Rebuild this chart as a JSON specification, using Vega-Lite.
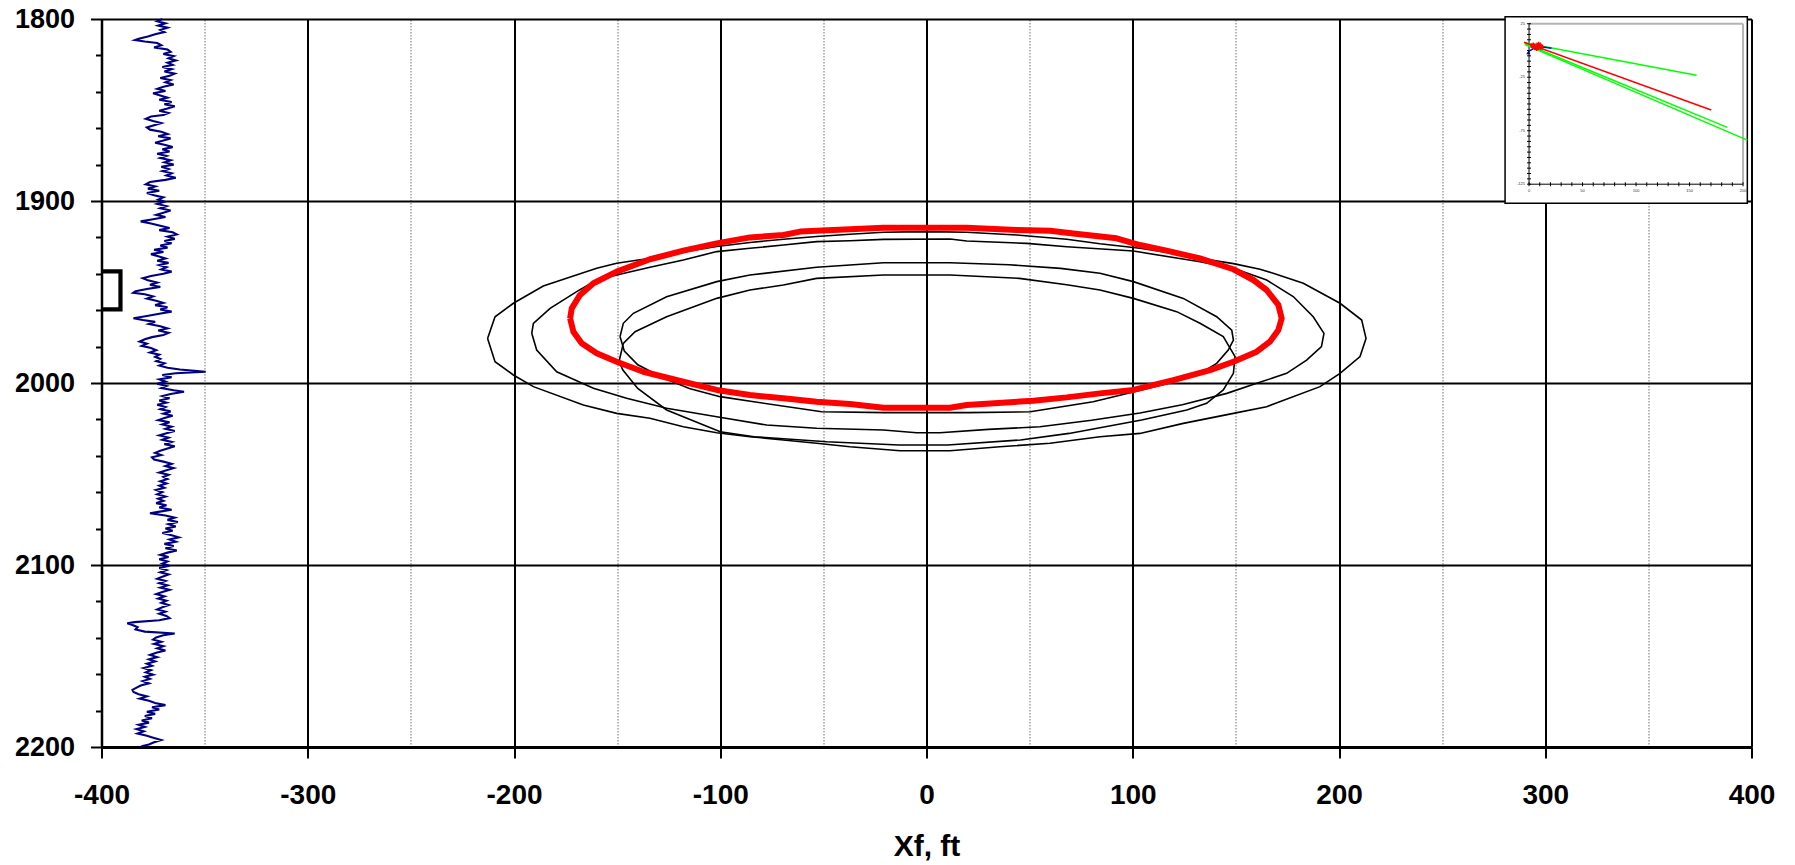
{
"$schema": "https://vega.github.io/schema/vega-lite/v6.json",
"width": 1650, "height": 728,
"autosize": {"type": "none"},
"padding": {"left": 101.5, "top": 19, "right": 43.5, "bottom": 118},
"background": "white",
"config": {"view": {"stroke": null}, "font": "Liberation Sans"},
"datasets": {
"log": [
{"y":1800.0,"x":-370.5},{"y":1801.2,"x":-373.0},{"y":1802.4,"x":-369.0},{"y":1803.6,"x":-372.5},{"y":1804.8,"x":-368.0},{"y":1806.0,"x":-371.5},{"y":1807.2,"x":-369.5},{"y":1808.4,"x":-374.0},{"y":1809.6,"x":-377.5},{"y":1810.8,"x":-382.0},{"y":1811.6,"x":-383.8},{"y":1812.4,"x":-379.0},{"y":1813.2,"x":-373.0},{"y":1814.4,"x":-371.0},{"y":1815.6,"x":-374.5},{"y":1816.8,"x":-368.0},{"y":1818.0,"x":-366.5},{"y":1819.2,"x":-370.0},{"y":1820.4,"x":-365.0},{"y":1821.6,"x":-367.5},{"y":1822.8,"x":-364.0},{"y":1824.0,"x":-368.0},{"y":1825.2,"x":-365.5},{"y":1826.4,"x":-370.5},{"y":1827.6,"x":-366.0},{"y":1828.8,"x":-369.5},{"y":1830.0,"x":-364.5},{"y":1831.2,"x":-367.0},{"y":1832.4,"x":-371.5},{"y":1833.6,"x":-366.5},{"y":1834.8,"x":-369.0},{"y":1836.0,"x":-365.0},{"y":1837.2,"x":-370.0},{"y":1838.4,"x":-373.0},{"y":1839.6,"x":-369.0},{"y":1840.8,"x":-375.0},{"y":1842.0,"x":-371.5},{"y":1843.2,"x":-368.0},{"y":1844.4,"x":-372.0},{"y":1845.6,"x":-366.0},{"y":1846.8,"x":-369.5},{"y":1848.0,"x":-364.5},{"y":1849.2,"x":-368.0},{"y":1850.4,"x":-372.0},{"y":1851.6,"x":-367.5},{"y":1852.8,"x":-370.0},{"y":1853.6,"x":-376.0},{"y":1854.8,"x":-378.5},{"y":1856.0,"x":-375.0},{"y":1857.2,"x":-371.0},{"y":1858.4,"x":-374.5},{"y":1859.6,"x":-378.0},{"y":1860.8,"x":-376.5},{"y":1862.0,"x":-371.0},{"y":1863.2,"x":-368.0},{"y":1864.4,"x":-372.5},{"y":1865.6,"x":-366.5},{"y":1866.8,"x":-370.0},{"y":1868.0,"x":-374.0},{"y":1869.2,"x":-369.0},{"y":1870.4,"x":-365.5},{"y":1871.6,"x":-370.5},{"y":1872.8,"x":-367.0},{"y":1874.0,"x":-373.0},{"y":1875.2,"x":-368.5},{"y":1876.4,"x":-371.5},{"y":1877.6,"x":-366.5},{"y":1878.8,"x":-369.5},{"y":1880.0,"x":-365.0},{"y":1881.2,"x":-371.0},{"y":1882.4,"x":-367.5},{"y":1883.6,"x":-370.5},{"y":1884.8,"x":-366.0},{"y":1886.0,"x":-368.5},{"y":1887.2,"x":-364.0},{"y":1888.4,"x":-369.0},{"y":1889.6,"x":-376.5},{"y":1890.8,"x":-378.5},{"y":1892.0,"x":-374.0},{"y":1893.2,"x":-377.5},{"y":1894.4,"x":-372.0},{"y":1895.6,"x":-378.0},{"y":1896.8,"x":-374.5},{"y":1898.0,"x":-370.0},{"y":1899.2,"x":-372.5},{"y":1900.4,"x":-369.5},
{"y":1901.6,"x":-373.0},{"y":1902.8,"x":-368.5},{"y":1904.0,"x":-371.5},{"y":1905.2,"x":-366.5},{"y":1906.4,"x":-370.0},{"y":1907.6,"x":-373.5},{"y":1908.8,"x":-369.0},{"y":1910.0,"x":-375.0},{"y":1911.2,"x":-381.0},{"y":1912.4,"x":-376.0},{"y":1913.6,"x":-371.5},{"y":1914.8,"x":-367.0},{"y":1916.0,"x":-372.0},{"y":1917.2,"x":-365.5},{"y":1918.4,"x":-363.5},{"y":1919.6,"x":-368.0},{"y":1920.8,"x":-364.5},{"y":1922.0,"x":-369.5},{"y":1923.2,"x":-366.0},{"y":1924.4,"x":-371.5},{"y":1925.6,"x":-368.0},{"y":1926.8,"x":-374.5},{"y":1928.0,"x":-370.0},{"y":1929.2,"x":-376.0},{"y":1930.4,"x":-372.5},{"y":1931.6,"x":-369.0},{"y":1932.8,"x":-373.0},{"y":1934.0,"x":-367.5},{"y":1935.2,"x":-372.0},{"y":1936.4,"x":-368.5},{"y":1937.6,"x":-371.0},{"y":1938.8,"x":-366.0},{"y":1940.0,"x":-370.0},{"y":1941.2,"x":-376.0},{"y":1942.4,"x":-380.0},{"y":1943.6,"x":-377.5},{"y":1944.8,"x":-373.0},{"y":1946.0,"x":-376.5},{"y":1947.2,"x":-371.5},{"y":1948.4,"x":-378.0},{"y":1949.6,"x":-383.5},{"y":1950.4,"x":-384.6},{"y":1951.2,"x":-379.0},{"y":1952.4,"x":-375.0},{"y":1953.6,"x":-378.0},{"y":1954.8,"x":-373.5},{"y":1956.0,"x":-370.0},{"y":1957.2,"x":-374.0},{"y":1958.4,"x":-368.0},{"y":1959.6,"x":-371.5},{"y":1960.8,"x":-366.0},{"y":1962.0,"x":-372.0},{"y":1963.2,"x":-378.0},{"y":1964.4,"x":-384.5},{"y":1965.4,"x":-380.0},{"y":1966.4,"x":-374.0},{"y":1967.6,"x":-377.0},{"y":1968.8,"x":-371.5},{"y":1970.0,"x":-368.0},{"y":1971.2,"x":-372.5},{"y":1972.4,"x":-367.5},{"y":1973.6,"x":-370.0},{"y":1974.8,"x":-375.5},{"y":1976.0,"x":-379.0},{"y":1977.2,"x":-381.5},{"y":1978.4,"x":-378.0},{"y":1979.6,"x":-380.5},{"y":1980.8,"x":-376.0},{"y":1982.0,"x":-373.5},{"y":1983.2,"x":-376.5},{"y":1984.4,"x":-372.0},{"y":1985.6,"x":-374.0},{"y":1986.8,"x":-371.5},{"y":1988.0,"x":-373.5},{"y":1989.2,"x":-369.5},{"y":1990.4,"x":-372.0},{"y":1991.6,"x":-368.0},{"y":1992.6,"x":-362.0},{"y":1993.8,"x":-349.5},{"y":1994.6,"x":-364.0},{"y":1995.6,"x":-370.5},{"y":1996.8,"x":-366.0},{"y":1998.0,"x":-372.0},{"y":1999.2,"x":-369.0},{"y":2000.4,"x":-373.0},
{"y":2001.6,"x":-368.5},{"y":2002.8,"x":-371.0},{"y":2004.0,"x":-365.0},{"y":2004.8,"x":-360.0},{"y":2006.0,"x":-366.5},{"y":2007.2,"x":-370.5},{"y":2008.4,"x":-367.0},{"y":2009.6,"x":-372.0},{"y":2010.8,"x":-368.5},{"y":2012.0,"x":-373.0},{"y":2013.2,"x":-369.0},{"y":2014.4,"x":-371.5},{"y":2015.6,"x":-366.5},{"y":2016.8,"x":-370.0},{"y":2018.0,"x":-365.5},{"y":2019.2,"x":-369.5},{"y":2020.4,"x":-372.5},{"y":2021.6,"x":-367.0},{"y":2022.8,"x":-370.5},{"y":2024.0,"x":-366.0},{"y":2025.2,"x":-369.0},{"y":2026.4,"x":-364.5},{"y":2027.6,"x":-368.5},{"y":2028.8,"x":-372.0},{"y":2030.0,"x":-367.5},{"y":2031.2,"x":-370.5},{"y":2032.4,"x":-366.0},{"y":2033.6,"x":-369.5},{"y":2034.8,"x":-364.5},{"y":2036.0,"x":-368.0},{"y":2037.2,"x":-371.5},{"y":2038.4,"x":-374.0},{"y":2039.6,"x":-371.0},{"y":2040.8,"x":-375.5},{"y":2042.0,"x":-374.5},{"y":2043.2,"x":-370.0},{"y":2044.4,"x":-366.0},{"y":2045.6,"x":-369.0},{"y":2046.8,"x":-365.0},{"y":2048.0,"x":-368.5},{"y":2049.2,"x":-372.0},{"y":2050.4,"x":-367.5},{"y":2051.6,"x":-370.0},{"y":2052.8,"x":-368.0},{"y":2054.0,"x":-371.5},{"y":2055.2,"x":-368.5},{"y":2056.4,"x":-372.0},{"y":2057.6,"x":-369.5},{"y":2058.8,"x":-373.5},{"y":2060.0,"x":-370.5},{"y":2061.2,"x":-373.0},{"y":2062.4,"x":-369.0},{"y":2063.6,"x":-372.5},{"y":2064.8,"x":-370.0},{"y":2066.0,"x":-373.5},{"y":2067.2,"x":-368.5},{"y":2068.4,"x":-372.0},{"y":2069.6,"x":-366.0},{"y":2070.8,"x":-372.5},{"y":2071.6,"x":-376.5},{"y":2072.8,"x":-369.0},{"y":2074.0,"x":-364.5},{"y":2075.2,"x":-368.0},{"y":2076.4,"x":-363.0},{"y":2077.6,"x":-367.5},{"y":2078.8,"x":-364.0},{"y":2080.0,"x":-369.0},{"y":2081.2,"x":-365.5},{"y":2082.4,"x":-370.5},{"y":2083.6,"x":-366.0},{"y":2084.8,"x":-362.5},{"y":2086.0,"x":-367.0},{"y":2087.2,"x":-364.0},{"y":2088.4,"x":-369.5},{"y":2089.6,"x":-365.0},{"y":2090.8,"x":-369.0},{"y":2092.0,"x":-363.5},{"y":2093.2,"x":-368.0},{"y":2094.4,"x":-371.5},{"y":2095.6,"x":-367.5},{"y":2096.8,"x":-372.0},{"y":2098.0,"x":-368.0},{"y":2099.2,"x":-370.5},{"y":2100.4,"x":-367.0},
{"y":2101.6,"x":-372.0},{"y":2102.8,"x":-368.5},{"y":2104.0,"x":-371.5},{"y":2105.2,"x":-367.5},{"y":2106.4,"x":-370.5},{"y":2107.6,"x":-373.0},{"y":2108.8,"x":-369.0},{"y":2110.0,"x":-372.0},{"y":2111.2,"x":-368.0},{"y":2112.4,"x":-371.5},{"y":2113.6,"x":-367.0},{"y":2114.8,"x":-370.5},{"y":2116.0,"x":-373.5},{"y":2117.2,"x":-369.5},{"y":2118.4,"x":-372.5},{"y":2119.6,"x":-368.5},{"y":2120.8,"x":-371.0},{"y":2122.0,"x":-367.5},{"y":2123.2,"x":-370.5},{"y":2124.4,"x":-373.0},{"y":2125.6,"x":-369.0},{"y":2126.8,"x":-372.0},{"y":2128.0,"x":-368.5},{"y":2129.2,"x":-367.0},{"y":2130.4,"x":-372.0},{"y":2131.4,"x":-384.0},{"y":2132.0,"x":-387.5},{"y":2133.0,"x":-385.0},{"y":2134.2,"x":-382.5},{"y":2135.4,"x":-383.5},{"y":2136.6,"x":-379.0},{"y":2137.6,"x":-364.5},{"y":2138.6,"x":-370.0},{"y":2139.8,"x":-373.5},{"y":2141.0,"x":-375.0},{"y":2142.2,"x":-371.0},{"y":2143.4,"x":-374.5},{"y":2144.6,"x":-370.0},{"y":2145.8,"x":-373.0},{"y":2147.0,"x":-369.0},{"y":2148.2,"x":-373.5},{"y":2149.4,"x":-376.5},{"y":2150.6,"x":-373.0},{"y":2151.8,"x":-377.0},{"y":2153.0,"x":-374.0},{"y":2154.2,"x":-378.0},{"y":2155.4,"x":-375.5},{"y":2156.6,"x":-379.5},{"y":2157.8,"x":-376.0},{"y":2159.0,"x":-378.5},{"y":2160.2,"x":-375.0},{"y":2161.4,"x":-379.0},{"y":2162.6,"x":-376.5},{"y":2163.8,"x":-380.0},{"y":2165.0,"x":-377.0},{"y":2166.2,"x":-381.0},{"y":2167.4,"x":-383.0},{"y":2168.6,"x":-385.0},{"y":2169.8,"x":-384.5},{"y":2171.0,"x":-382.0},{"y":2172.2,"x":-378.0},{"y":2173.4,"x":-381.5},{"y":2174.6,"x":-377.0},{"y":2175.8,"x":-374.0},{"y":2177.0,"x":-369.0},{"y":2178.2,"x":-375.5},{"y":2179.4,"x":-372.0},{"y":2180.6,"x":-378.0},{"y":2181.8,"x":-374.0},{"y":2183.0,"x":-379.0},{"y":2184.2,"x":-375.5},{"y":2185.4,"x":-380.5},{"y":2186.6,"x":-377.0},{"y":2187.8,"x":-382.0},{"y":2189.0,"x":-379.0},{"y":2190.2,"x":-383.0},{"y":2191.4,"x":-379.5},{"y":2192.6,"x":-382.5},{"y":2193.8,"x":-378.0},{"y":2195.0,"x":-374.5},{"y":2196.2,"x":-371.0},{"y":2197.4,"x":-374.5},{"y":2198.6,"x":-377.0},{"y":2199.4,"x":-380.0},{"y":2200.0,"x":-381.0}
],
"frac": [
{"c":"r","i":0,"x":-172.8,"y":1964.5},{"c":"r","i":1,"x":-172.0,"y":1959.0},{"c":"r","i":2,"x":-168.0,"y":1951.6},{"c":"r","i":3,"x":-161.5,"y":1945.2},{"c":"r","i":4,"x":-150.2,"y":1938.8},{"c":"r","i":5,"x":-134.1,"y":1932.0},{"c":"r","i":6,"x":-117.9,"y":1927.3},{"c":"r","i":7,"x":-101.7,"y":1923.3},{"c":"r","i":8,"x":-85.6,"y":1920.0},{"c":"r","i":9,"x":-69.4,"y":1918.7},{"c":"r","i":10,"x":-61.3,"y":1916.8},{"c":"r","i":11,"x":-45.2,"y":1915.9},{"c":"r","i":12,"x":-20.9,"y":1914.7},{"c":"r","i":13,"x":0,"y":1914.7},{"c":"r","i":14,"x":19.5,"y":1914.7},{"c":"r","i":15,"x":43.7,"y":1915.9},{"c":"r","i":16,"x":59.9,"y":1916.3},{"c":"r","i":17,"x":71.2,"y":1917.8},{"c":"r","i":18,"x":92.2,"y":1920.5},{"c":"r","i":19,"x":103.5,"y":1924.2},{"c":"r","i":20,"x":116.4,"y":1927.3},{"c":"r","i":21,"x":132.6,"y":1931.5},{"c":"r","i":22,"x":148.8,"y":1937.5},{"c":"r","i":23,"x":158.5,"y":1943.4},{"c":"r","i":24,"x":164.9,"y":1948.9},{"c":"r","i":25,"x":170.6,"y":1957.1},{"c":"r","i":26,"x":172.2,"y":1964.5},{"c":"r","i":27,"x":170.6,"y":1970.9},{"c":"r","i":28,"x":166.5,"y":1977.3},{"c":"r","i":29,"x":160.1,"y":1982.8},{"c":"r","i":30,"x":148.8,"y":1988.3},{"c":"r","i":31,"x":137.5,"y":1992.9},{"c":"r","i":32,"x":119.7,"y":1998.4},{"c":"r","i":33,"x":100.3,"y":2003.8},{"c":"r","i":34,"x":84.1,"y":2005.7},{"c":"r","i":35,"x":68.0,"y":2007.9},{"c":"r","i":36,"x":51.8,"y":2009.7},{"c":"r","i":37,"x":19.5,"y":2012.1},{"c":"r","i":38,"x":11.4,"y":2013.6},{"c":"r","i":39,"x":-20.9,"y":2013.6},{"c":"r","i":40,"x":-37.1,"y":2011.5},{"c":"r","i":41,"x":-53.3,"y":2010.3},{"c":"r","i":42,"x":-69.4,"y":2008.4},{"c":"r","i":43,"x":-85.6,"y":2006.6},{"c":"r","i":44,"x":-101.7,"y":2003.8},{"c":"r","i":45,"x":-117.9,"y":1999.3},{"c":"r","i":46,"x":-137.3,"y":1993.8},{"c":"r","i":47,"x":-150.2,"y":1988.3},{"c":"r","i":48,"x":-159.9,"y":1983.7},{"c":"r","i":49,"x":-167.2,"y":1978.2},{"c":"r","i":50,"x":-171.2,"y":1971.8},{"c":"r","i":51,"x":-172.8,"y":1964.5},
{"c":"1","i":0,"x":-212.8,"y":1975.5},{"c":"1","i":1,"x":-209.2,"y":1963.6},{"c":"1","i":2,"x":-200.3,"y":1956.2},{"c":"1","i":3,"x":-185.8,"y":1946.7},{"c":"1","i":4,"x":-174.5,"y":1942.5},{"c":"1","i":5,"x":-159.9,"y":1937.0},{"c":"1","i":6,"x":-150.2,"y":1934.2},{"c":"1","i":7,"x":-137.3,"y":1932.0},{"c":"1","i":8,"x":-117.9,"y":1928.0},{"c":"1","i":9,"x":-101.7,"y":1925.0},{"c":"1","i":10,"x":-85.6,"y":1922.8},{"c":"1","i":11,"x":-69.4,"y":1921.0},{"c":"1","i":12,"x":-53.3,"y":1919.5},{"c":"1","i":13,"x":-37.1,"y":1918.3},{"c":"1","i":14,"x":-20.9,"y":1917.2},{"c":"1","i":15,"x":0,"y":1916.8},{"c":"1","i":16,"x":19.5,"y":1917.2},{"c":"1","i":17,"x":43.7,"y":1918.7},{"c":"1","i":18,"x":68.0,"y":1921.0},{"c":"1","i":19,"x":84.1,"y":1923.5},{"c":"1","i":20,"x":103.5,"y":1926.0},{"c":"1","i":21,"x":120.0,"y":1928.8},{"c":"1","i":22,"x":132.6,"y":1931.5},{"c":"1","i":23,"x":148.8,"y":1934.4},{"c":"1","i":24,"x":161.7,"y":1937.5},{"c":"1","i":25,"x":168.1,"y":1939.7},{"c":"1","i":26,"x":182.7,"y":1945.2},{"c":"1","i":27,"x":200.5,"y":1956.2},{"c":"1","i":28,"x":211.0,"y":1965.4},{"c":"1","i":29,"x":213.1,"y":1975.5},{"c":"1","i":30,"x":210.2,"y":1985.5},{"c":"1","i":31,"x":200.5,"y":1994.7},{"c":"1","i":32,"x":190.8,"y":2002.0},{"c":"1","i":33,"x":164.9,"y":2013.0},{"c":"1","i":34,"x":148.8,"y":2016.7},{"c":"1","i":35,"x":124.5,"y":2022.2},{"c":"1","i":36,"x":103.5,"y":2027.7},{"c":"1","i":37,"x":84.1,"y":2029.5},{"c":"1","i":38,"x":59.9,"y":2033.1},{"c":"1","i":39,"x":35.6,"y":2035.0},{"c":"1","i":40,"x":11.4,"y":2037.2},{"c":"1","i":41,"x":-12.8,"y":2037.2},{"c":"1","i":42,"x":-37.1,"y":2035.0},{"c":"1","i":43,"x":-53.3,"y":2033.1},{"c":"1","i":44,"x":-69.4,"y":2031.3},{"c":"1","i":45,"x":-85.6,"y":2029.5},{"c":"1","i":46,"x":-101.7,"y":2027.3},{"c":"1","i":47,"x":-117.9,"y":2024.0},{"c":"1","i":48,"x":-134.1,"y":2019.4},{"c":"1","i":49,"x":-150.2,"y":2016.7},{"c":"1","i":50,"x":-166.4,"y":2012.1},{"c":"1","i":51,"x":-190.6,"y":2002.0},{"c":"1","i":52,"x":-200.3,"y":1995.6},{"c":"1","i":53,"x":-209.2,"y":1988.3},{"c":"1","i":54,"x":-212.8,"y":1975.5},
{"c":"2","i":0,"x":-191.4,"y":1972.7},{"c":"2","i":1,"x":-190.6,"y":1967.2},{"c":"2","i":2,"x":-182.5,"y":1959.0},{"c":"2","i":3,"x":-169.6,"y":1949.8},{"c":"2","i":4,"x":-159.9,"y":1943.4},{"c":"2","i":5,"x":-150.2,"y":1940.7},{"c":"2","i":6,"x":-134.1,"y":1936.4},{"c":"2","i":7,"x":-117.9,"y":1932.4},{"c":"2","i":8,"x":-101.7,"y":1927.8},{"c":"2","i":9,"x":-85.6,"y":1926.0},{"c":"2","i":10,"x":-69.4,"y":1924.2},{"c":"2","i":11,"x":-53.3,"y":1922.3},{"c":"2","i":12,"x":-37.1,"y":1921.8},{"c":"2","i":13,"x":-20.9,"y":1921.1},{"c":"2","i":14,"x":11.4,"y":1920.9},{"c":"2","i":15,"x":19.5,"y":1922.0},{"c":"2","i":16,"x":48.6,"y":1923.3},{"c":"2","i":17,"x":68.0,"y":1925.1},{"c":"2","i":18,"x":100.3,"y":1927.5},{"c":"2","i":19,"x":132.6,"y":1933.4},{"c":"2","i":20,"x":148.8,"y":1937.0},{"c":"2","i":21,"x":164.9,"y":1943.4},{"c":"2","i":22,"x":177.8,"y":1952.5},{"c":"2","i":23,"x":187.5,"y":1963.6},{"c":"2","i":24,"x":192.7,"y":1972.7},{"c":"2","i":25,"x":191.5,"y":1980.0},{"c":"2","i":26,"x":184.3,"y":1987.4},{"c":"2","i":27,"x":174.6,"y":1994.7},{"c":"2","i":28,"x":160.1,"y":2000.2},{"c":"2","i":29,"x":145.6,"y":2005.7},{"c":"2","i":30,"x":124.0,"y":2012.0},{"c":"2","i":31,"x":103.5,"y":2016.5},{"c":"2","i":32,"x":80.0,"y":2020.5},{"c":"2","i":33,"x":55.0,"y":2024.0},{"c":"2","i":34,"x":30.0,"y":2025.5},{"c":"2","i":35,"x":6.5,"y":2027.3},{"c":"2","i":36,"x":-4.8,"y":2027.3},{"c":"2","i":37,"x":-20.9,"y":2025.8},{"c":"2","i":38,"x":-53.3,"y":2024.9},{"c":"2","i":39,"x":-77.5,"y":2023.1},{"c":"2","i":40,"x":-101.7,"y":2018.5},{"c":"2","i":41,"x":-126.0,"y":2013.9},{"c":"2","i":42,"x":-145.4,"y":2008.4},{"c":"2","i":43,"x":-161.5,"y":2002.9},{"c":"2","i":44,"x":-179.3,"y":1993.8},{"c":"2","i":45,"x":-189.0,"y":1981.9},{"c":"2","i":46,"x":-191.4,"y":1972.7},
{"c":"3","i":0,"x":-148.6,"y":1974.5},{"c":"3","i":1,"x":-147.0,"y":1967.2},{"c":"3","i":2,"x":-142.1,"y":1961.7},{"c":"3","i":3,"x":-126.0,"y":1952.6},{"c":"3","i":4,"x":-101.7,"y":1944.3},{"c":"3","i":5,"x":-85.6,"y":1940.7},{"c":"3","i":6,"x":-53.3,"y":1936.4},{"c":"3","i":7,"x":-20.9,"y":1933.9},{"c":"3","i":8,"x":11.4,"y":1933.9},{"c":"3","i":9,"x":40.0,"y":1935.0},{"c":"3","i":10,"x":65.0,"y":1937.0},{"c":"3","i":11,"x":84.1,"y":1939.7},{"c":"3","i":12,"x":100.3,"y":1944.3},{"c":"3","i":13,"x":124.5,"y":1953.5},{"c":"3","i":14,"x":140.7,"y":1963.6},{"c":"3","i":15,"x":148.0,"y":1970.9},{"c":"3","i":16,"x":148.8,"y":1976.4},{"c":"3","i":17,"x":146.3,"y":1981.9},{"c":"3","i":18,"x":140.7,"y":1989.2},{"c":"3","i":19,"x":132.6,"y":1994.7},{"c":"3","i":20,"x":116.0,"y":2000.5},{"c":"3","i":21,"x":100.8,"y":2004.8},{"c":"3","i":22,"x":80.8,"y":2010.3},{"c":"3","i":23,"x":50.3,"y":2015.8},{"c":"3","i":24,"x":20.0,"y":2016.3},{"c":"3","i":25,"x":-20.0,"y":2016.3},{"c":"3","i":26,"x":-50.8,"y":2015.8},{"c":"3","i":27,"x":-83.7,"y":2010.3},{"c":"3","i":28,"x":-100.1,"y":2007.5},{"c":"3","i":29,"x":-115.0,"y":2003.0},{"c":"3","i":30,"x":-128.0,"y":1997.0},{"c":"3","i":31,"x":-140.0,"y":1990.0},{"c":"3","i":32,"x":-146.5,"y":1982.5},{"c":"3","i":33,"x":-148.6,"y":1974.5},
{"c":"4","i":0,"x":-149.1,"y":1988.3},{"c":"4","i":1,"x":-147.0,"y":1978.2},{"c":"4","i":2,"x":-141.3,"y":1971.8},{"c":"4","i":3,"x":-126.0,"y":1963.6},{"c":"4","i":4,"x":-101.7,"y":1953.5},{"c":"4","i":5,"x":-85.6,"y":1948.9},{"c":"4","i":6,"x":-69.4,"y":1946.2},{"c":"4","i":7,"x":-53.3,"y":1942.5},{"c":"4","i":8,"x":-20.9,"y":1940.7},{"c":"4","i":9,"x":11.4,"y":1940.7},{"c":"4","i":10,"x":45.0,"y":1942.5},{"c":"4","i":11,"x":68.0,"y":1946.0},{"c":"4","i":12,"x":84.1,"y":1948.9},{"c":"4","i":13,"x":100.3,"y":1953.5},{"c":"4","i":14,"x":121.3,"y":1960.8},{"c":"4","i":15,"x":132.6,"y":1967.2},{"c":"4","i":16,"x":143.9,"y":1974.5},{"c":"4","i":17,"x":149.6,"y":1985.5},{"c":"4","i":18,"x":148.8,"y":1994.7},{"c":"4","i":19,"x":143.9,"y":2003.8},{"c":"4","i":20,"x":135.8,"y":2011.2},{"c":"4","i":21,"x":126.2,"y":2014.8},{"c":"4","i":22,"x":104.3,"y":2020.3},{"c":"4","i":23,"x":69.1,"y":2027.7},{"c":"4","i":24,"x":45.6,"y":2031.3},{"c":"4","i":25,"x":10.3,"y":2034.1},{"c":"4","i":26,"x":-13.3,"y":2034.1},{"c":"4","i":27,"x":-48.4,"y":2032.3},{"c":"4","i":28,"x":-83.6,"y":2029.5},{"c":"4","i":29,"x":-100.0,"y":2026.8},{"c":"4","i":30,"x":-126.0,"y":2014.8},{"c":"4","i":31,"x":-140.0,"y":2003.0},{"c":"4","i":32,"x":-147.2,"y":1992.9},{"c":"4","i":33,"x":-149.1,"y":1988.3}
],
"brk": [{"i":0,"x":-400,"y":1938.7},{"i":1,"x":-390.8,"y":1938.7},{"i":2,"x":-390.8,"y":1959.6},{"i":3,"x":-400,"y":1959.6}],
"ibox": [{"x":-22.4,"x2":204.0,"y":31.5,"y2":-142.9}],
"igray": [{"x":0,"x2":200,"y":25,"y2":25},{"x":200,"x2":200,"y":25,"y2":-125}],
"iaxis": [{"x":0,"x2":200,"y":-125,"y2":-125},{"x":0,"x2":0,"y":-125,"y2":25}],
"ixt": [{"x":0,"y":-125},{"x":10,"y":-125},{"x":20,"y":-125},{"x":30,"y":-125},{"x":40,"y":-125},{"x":50,"y":-125},{"x":60,"y":-125},{"x":70,"y":-125},{"x":80,"y":-125},{"x":90,"y":-125},{"x":100,"y":-125},{"x":110,"y":-125},{"x":120,"y":-125},{"x":130,"y":-125},{"x":140,"y":-125},{"x":150,"y":-125},{"x":160,"y":-125},{"x":170,"y":-125},{"x":180,"y":-125},{"x":190,"y":-125},{"x":200,"y":-125}],
"iyt": [{"x":0,"y":-125},{"x":0,"y":-120},{"x":0,"y":-115},{"x":0,"y":-110},{"x":0,"y":-105},{"x":0,"y":-100},{"x":0,"y":-95},{"x":0,"y":-90},{"x":0,"y":-85},{"x":0,"y":-80},{"x":0,"y":-75},{"x":0,"y":-70},{"x":0,"y":-65},{"x":0,"y":-60},{"x":0,"y":-55},{"x":0,"y":-50},{"x":0,"y":-45},{"x":0,"y":-40},{"x":0,"y":-35},{"x":0,"y":-30},{"x":0,"y":-25},{"x":0,"y":-20},{"x":0,"y":-15},{"x":0,"y":-10},{"x":0,"y":-5},{"x":0,"y":0},{"x":0,"y":5},{"x":0,"y":10},{"x":0,"y":15},{"x":0,"y":20},{"x":0,"y":25}],
"ixl": [{"x":0,"y":-125,"t":"0"},{"x":50,"y":-125,"t":"50"},{"x":100,"y":-125,"t":"100"},{"x":150,"y":-125,"t":"150"},{"x":200,"y":-125,"t":"200"}],
"iyl": [{"x":0,"y":25,"t":"25"},{"x":0,"y":-25,"t":"-25"},{"x":0,"y":-75,"t":"-75"},{"x":0,"y":-125,"t":"-125"}],
"ilines": [{"k":"g1","o":0,"x":-4.7,"y":7.2},{"k":"g1","o":1,"x":156.6,"y":-23.1},{"k":"g2","o":0,"x":-3.8,"y":6.3},{"k":"g2","o":1,"x":185.3,"y":-71.9},{"k":"g3","o":0,"x":-3.8,"y":5.5},{"k":"g3","o":1,"x":204.0,"y":-83.8},{"k":"r","o":0,"x":-4.7,"y":7.8},{"k":"r","o":1,"x":170.3,"y":-55.6}],
"iblue": [{"o":0,"x":-0.5,"y":-0.8},{"o":1,"x":5,"y":2.2},{"o":2,"x":13,"y":3.2},{"o":3,"x":21,"y":2.0}],
"itri": [{"x":-0.6,"y":-1.8}],
"istar": [{"x":4,"y":4.5},{"x":7,"y":2.5},{"x":9,"y":5.2},{"x":11,"y":3.2}]
},
"layer": [
{
"encoding": {
"x": {"field": "x", "type": "quantitative", "scale": {"domain": [-400, 400], "nice": false, "zero": false},
 "axis": {"title": "Xf, ft", "values": [-400,-350,-300,-250,-200,-150,-100,-50,0,50,100,150,200,250,300,350,400],
  "labelExpr": "datum.value % 100 == 0 ? toString(datum.value) : ''",
  "labelFont": "Liberation Sans", "labelFontWeight": "bold", "labelFontSize": 28, "labelColor": "black",
  "labelPadding": 23, "labelFlush": false, "labelOverlap": false,
  "tickSize": 11, "tickColor": "black", "tickWidth": 2,
  "tickOpacity": {"condition": {"test": "datum.value % 100 == 0", "value": 1}, "value": 0},
  "domainColor": "black", "domainWidth": 3,
  "grid": true,
  "gridColor": {"condition": {"test": "datum.value % 100 == 0", "value": "black"}, "value": "#6e6e6e"},
  "gridWidth": {"condition": {"test": "datum.value % 100 == 0", "value": 2}, "value": 1},
  "gridDash": {"condition": {"test": "datum.value % 100 == 0", "value": []}, "value": [1.5, 1.5]},
  "titleFont": "Liberation Sans", "titleFontWeight": "bold", "titleFontSize": 30, "titleColor": "black",
  "titleY": 84, "titleBaseline": "top"}},
"y": {"field": "y", "type": "quantitative", "scale": {"domain": [1800, 2200], "nice": false, "zero": false, "reverse": true},
 "axis": {"title": null, "values": [1800,1820,1840,1860,1880,1900,1920,1940,1960,1980,2000,2020,2040,2060,2080,2100,2120,2140,2160,2180,2200],
  "labelExpr": "datum.value % 100 == 0 ? toString(datum.value) : ''",
  "labelFont": "Liberation Sans", "labelFontWeight": "bold", "labelFontSize": 27, "labelColor": "black",
  "labelPadding": 16, "labelFlush": false, "labelOverlap": false,
  "tickSize": {"condition": {"test": "datum.value % 100 == 0", "value": 11}, "value": 6},
  "tickColor": "black", "tickWidth": 2,
  "domainColor": "black", "domainWidth": 2.5,
  "grid": true, "gridColor": "black", "gridWidth": 2,
  "gridOpacity": {"condition": {"test": "datum.value % 100 == 0", "value": 1}, "value": 0}}}
},
"layer": [
{"data": {"name": "log"}, "mark": {"type": "line", "color": "#000080", "strokeWidth": 2.1}, "encoding": {"order": {"field": "y", "type": "quantitative"}}},
{"data": {"name": "frac"}, "transform": [{"filter": "datum.c != 'r'"}], "mark": {"type": "line", "color": "black", "strokeWidth": 1.6}, "encoding": {"detail": {"field": "c", "type": "nominal"}, "order": {"field": "i", "type": "quantitative"}}},
{"data": {"name": "frac"}, "transform": [{"filter": "datum.c == 'r'"}], "mark": {"type": "line", "color": "#ff0000", "strokeWidth": 6, "strokeJoin": "round"}, "encoding": {"order": {"field": "i", "type": "quantitative"}}},
{"data": {"name": "brk"}, "mark": {"type": "line", "color": "black", "strokeWidth": 4.2, "strokeJoin": "miter"}, "encoding": {"order": {"field": "i", "type": "quantitative"}}}
]
},
{
"encoding": {
"x": {"field": "x", "type": "quantitative", "scale": {"domain": [-1334.1, 207.9], "nice": false, "zero": false}, "axis": null},
"y": {"field": "y", "type": "quantitative", "scale": {"domain": [-651.0, 29.4], "nice": false, "zero": false}, "axis": null}
},
"layer": [
{"data": {"name": "ibox"}, "mark": {"type": "rect", "fill": "white", "stroke": "black", "strokeWidth": 1.5}, "encoding": {"x2": {"field": "x2"}, "y2": {"field": "y2"}}},
{"data": {"name": "igray"}, "mark": {"type": "rule", "color": "#b4b4b4", "strokeWidth": 2}, "encoding": {"x2": {"field": "x2"}, "y2": {"field": "y2"}}},
{"data": {"name": "iaxis"}, "mark": {"type": "rule", "color": "black", "strokeWidth": 1}, "encoding": {"x2": {"field": "x2"}, "y2": {"field": "y2"}}},
{"data": {"name": "ixt"}, "mark": {"type": "tick", "orient": "vertical", "color": "black", "size": 4, "thickness": 1, "opacity": 1}},
{"data": {"name": "iyt"}, "mark": {"type": "tick", "orient": "horizontal", "color": "black", "size": 4, "thickness": 1, "opacity": 1}},
{"data": {"name": "ixl"}, "mark": {"type": "text", "fontSize": 4, "dy": 5, "baseline": "top", "color": "#333333"}, "encoding": {"text": {"field": "t"}}},
{"data": {"name": "iyl"}, "mark": {"type": "text", "fontSize": 4, "dx": -4, "align": "right", "baseline": "middle", "color": "#333333"}, "encoding": {"text": {"field": "t"}}},
{"data": {"name": "ilines"}, "transform": [{"filter": "datum.k != 'r'"}], "mark": {"type": "line", "color": "#00ff00", "strokeWidth": 1.5}, "encoding": {"detail": {"field": "k", "type": "nominal"}, "order": {"field": "o", "type": "quantitative"}}},
{"data": {"name": "ilines"}, "transform": [{"filter": "datum.k == 'r'"}], "mark": {"type": "line", "color": "#ff0000", "strokeWidth": 1.5}, "encoding": {"order": {"field": "o", "type": "quantitative"}}},
{"data": {"name": "iblue"}, "mark": {"type": "line", "color": "#0000ff", "strokeWidth": 1.5}, "encoding": {"order": {"field": "o", "type": "quantitative"}}},
{"data": {"name": "itri"}, "mark": {"type": "point", "shape": "triangle-up", "filled": true, "color": "#000080", "size": 18, "opacity": 1}},
{"data": {"name": "istar"}, "mark": {"type": "point", "shape": "M-1,0L1,0M0,-1L0,1M-0.7,-0.7L0.7,0.7M-0.7,0.7L0.7,-0.7", "filled": false, "color": "#ff0000", "strokeWidth": 1.5, "size": 40, "opacity": 1}}
]
}
],
"resolve": {"scale": {"x": "independent", "y": "independent"}}
}
